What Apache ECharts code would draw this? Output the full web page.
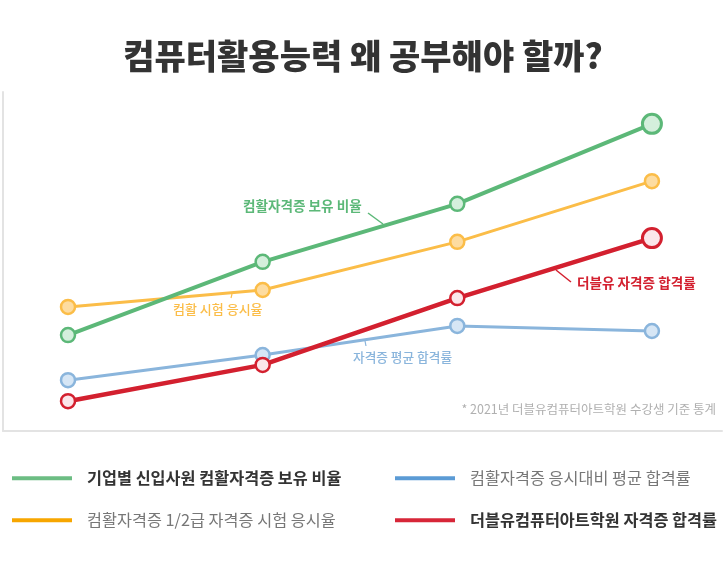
<!DOCTYPE html>
<html>
<head>
<meta charset="utf-8">
<script src="https://cdn.jsdelivr.net/npm/echarts@6/dist/echarts.min.js"></script>
<style>
    html, body { margin: 0; padding: 0; background: #fff; }
    #chart { width: 726px; height: 572px; }
</style>
</head>
<body>
<div id="chart"></div>
<script>
// 데이터 (그림에서 읽은 값, 0~100 기준)
const steps = [0, 1, 2, 3]
const ownRate = [28.3, 49.9, 67.0, 90.6]      // 기업별 신입사원 컴활자격증 보유 비율
const examRate = [36.6, 41.6, 55.8, 73.7]     // 컴활자격증 1/2급 자격증 시험 응시율
const avgPass = [15.0, 22.4, 31.0, 29.5]      // 컴활자격증 응시대비 평균 합격률
const academyPass = [8.8, 19.5, 39.2, 56.9]   // 더블유컴퓨터아트학원 자격증 합격률

const legendNames = [
    '기업별 신입사원 컴활자격증 보유 비율',
    '컴활자격증 응시대비 평균 합격률',
    '컴활자격증 1/2급 자격증 시험 응시율',
    '더블유컴퓨터아트학원 자격증 합격률'
]

const font = 'Noto Sans CJK KR'
const myChart = echarts.init(document.getElementById('chart'))

function pts(vals, bigLast) {
    return vals.map((v, i) => {
        const item = { value: [steps[i], v] }
        if (bigLast && i === vals.length - 1) {
            item.symbolSize = 19
            item.itemStyle = { borderWidth: 3 }
        }
        return item
    })
}

function lineSeries(name, vals, color, fill, width, bigLast) {
    return {
        name: name,
        type: 'line',
        data: pts(vals, bigLast),
        symbol: 'circle',
        symbolSize: 14,
        showSymbol: true,
        lineStyle: { color: color, width: width },
        itemStyle: { color: fill, borderColor: color, borderWidth: 2.5 },
        emphasis: { disabled: true },
        z: 2
    }
}

function oneLegend(name, color, left, top, bold) {
    return {
        data: [{
            name: name,
            icon: 'rect',
            itemStyle: { color: color, borderWidth: 0 },
            textStyle: {
                color: bold ? '#333' : '#777',
                fontWeight: bold ? 'bold' : 'normal'
            }
        }],
        left: left,
        top: top,
        padding: 0,
        itemWidth: 60,
        itemHeight: 4,
        selectedMode: false,
        textStyle: { fontFamily: font, fontSize: 16.3, padding: [0, 0, 0, 10] }
    }
}

const option = {
    backgroundColor: '#fff',
    animation: false,
    title: {
        text: '컴퓨터활용능력 왜 공부해야 할까?',
        left: 'center',
        top: 34,
        textStyle: { fontFamily: font, fontSize: 34, fontWeight: 900, color: '#333' }
    },
    grid: { left: 3, right: 4, top: 92, bottom: 141 },
    xAxis: {
        type: 'value',
        min: -0.334,
        max: 3.36,
        axisLine: { show: true, onZero: false, lineStyle: { color: '#e3e3e3', width: 2 } },
        axisTick: { show: false },
        axisLabel: { show: false },
        splitLine: { show: false }
    },
    yAxis: {
        type: 'value',
        min: 0,
        max: 100,
        axisLine: { show: true, onZero: false, lineStyle: { color: '#e3e3e3', width: 2 } },
        axisTick: { show: false },
        axisLabel: { show: false },
        splitLine: { show: false }
    },
    legend: [
        oneLegend(legendNames[0], '#6cbd83', 12, 470, true),
        oneLegend(legendNames[1], '#5b9bd5', 395, 470, false),
        oneLegend(legendNames[2], '#f7a600', 12, 512, false),
        oneLegend(legendNames[3], '#d72638', 395, 512, true)
    ],
    series: [
        lineSeries(legendNames[2], examRate, '#fbbd48', '#fddca0', 3, false),
        lineSeries(legendNames[1], avgPass, '#8ab5dc', '#d6e6f5', 3, false),
        lineSeries(legendNames[0], ownRate, '#5cb878', '#d4efdc', 4, true),
        lineSeries(legendNames[3], academyPass, '#d3202f', '#fbe6ea', 4.5, true)
    ],
    graphic: [
        // 시리즈 설명 글자와 지시선
        { type: 'text', left: 243, top: 199, style: { text: '컴활자격증 보유 비율', fill: '#5cb878', font: 'bold 13.6px "Noto Sans CJK KR"' } },
        { type: 'line', shape: { x1: 368, y1: 213, x2: 383, y2: 224 }, style: { stroke: '#5cb878', lineWidth: 1.5 } },
        { type: 'text', left: 173, top: 303, style: { text: '컴활 시험 응시율', fill: '#fbbd48', font: '500 13px "Noto Sans CJK KR"' } },
        { type: 'line', shape: { x1: 232, y1: 294, x2: 231, y2: 298 }, style: { stroke: '#fbbd48', lineWidth: 1.2 } },
        { type: 'text', left: 353, top: 351, style: { text: '자격증 평균 합격률', fill: '#8ab5dc', font: '500 12.7px "Noto Sans CJK KR"' } },
        { type: 'line', shape: { x1: 365, y1: 341, x2: 366, y2: 346 }, style: { stroke: '#8ab5dc', lineWidth: 1.2 } },
        { type: 'text', left: 577, top: 276, style: { text: '더블유 자격증 합격률', fill: '#d3202f', font: 'bold 13.6px "Noto Sans CJK KR"' } },
        { type: 'line', shape: { x1: 556, y1: 270, x2: 571, y2: 282 }, style: { stroke: '#d3202f', lineWidth: 1.5 } },
        { type: 'text', right: 10, top: 403, style: { text: '* 2021년 더블유컴퓨터아트학원 수강생 기준 통계', fill: '#b0b0b0', font: '12.5px "Noto Sans CJK KR"' } }
    ]
}
myChart.setOption(option)
</script>
</body>
</html>
